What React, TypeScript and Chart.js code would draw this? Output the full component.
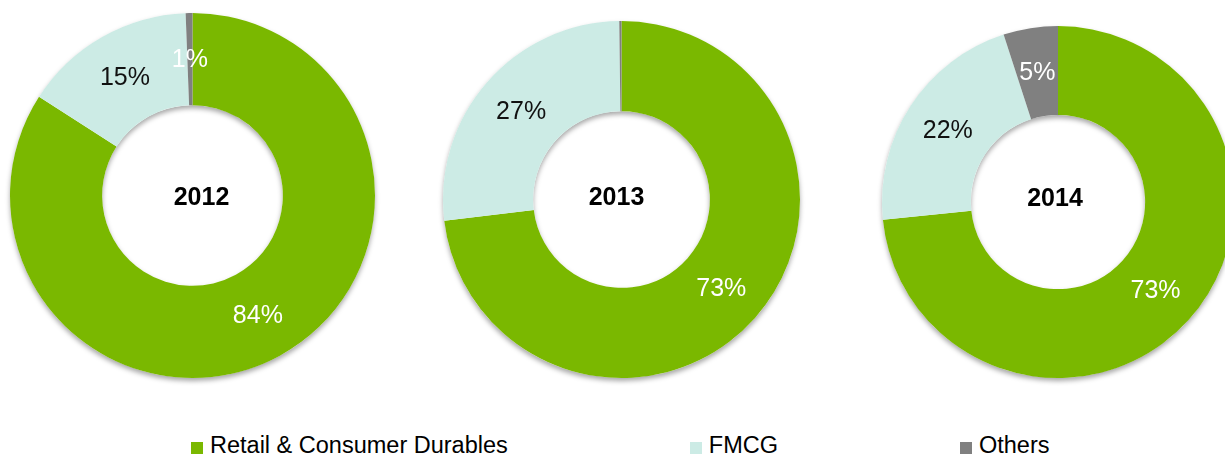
import React, { useEffect, useRef } from "react";
import { Chart, registerables } from "chart.js";

Chart.register(...registerables);

// ---- data ----
const categories = ["Retail & Consumer Durables", "FMCG", "Others"];
const years = ["2012", "2013", "2014"];
const values2012 = [84.1, 15.3, 0.6];
const values2013 = [73.1, 26.7, 0.2];
const values2014 = [73.4, 21.6, 5.0];
const seriesByYear = [values2012, values2013, values2014];

// ---- styles ----
const colors = ["#7AB800", "#CCEBE5", "#808080"];
const labelColors = ["#FFFFFF", "#111111", "#FFFFFF"];
const FONT = "'Liberation Sans', Arial, Helvetica, sans-serif";

// layout of each doughnut (canvas box = size, centred on the ring)
const layouts = [
  { left: 10, top: 13, size: 365, dx: 9, dy: 2 },
  { left: 443, top: 21, size: 357, dx: -5, dy: -2 },
  { left: 882, top: 26, size: 352, dx: -3, dy: -4 },
];
const PAD = 8;

const ringShadow = {
  id: "ringShadow",
  beforeDatasetsDraw(chart: any) {
    const arc = chart.getDatasetMeta(0).data[0];
    if (!arc) return;
    const { x, y, outerRadius, innerRadius } = arc.getProps(
      ["x", "y", "outerRadius", "innerRadius"],
      true
    );
    const ctx = chart.ctx;
    ctx.save();
    ctx.shadowColor = "rgba(0,0,0,0.35)";
    ctx.shadowBlur = 5;
    ctx.shadowOffsetY = 3;
    ctx.beginPath();
    ctx.arc(x, y, outerRadius, 0, Math.PI * 2);
    ctx.arc(x, y, innerRadius, 0, Math.PI * 2, true);
    ctx.closePath();
    ctx.fillStyle = "#ffffff";
    ctx.fill();
    ctx.restore();
  },
};

const sliceLabels = {
  id: "sliceLabels",
  afterDatasetsDraw(chart: any) {
    const ds = chart.data.datasets[0];
    const meta = chart.getDatasetMeta(0);
    const ctx = chart.ctx;
    ctx.save();
    ctx.font = `25px ${FONT}`;
    ctx.textAlign = "center";
    ctx.textBaseline = "middle";
    meta.data.forEach((arc: any, i: number) => {
      const v = Math.round(ds.data[i]);
      if (v < 1) return;
      const p = arc.tooltipPosition(true);
      ctx.fillStyle = labelColors[i];
      ctx.fillText(`${v}%`, p.x, p.y + 1);
    });
    ctx.restore();
  },
};

const centerTitle = {
  id: "centerTitle",
  afterDraw(chart: any, _args: any, opts: any) {
    const arc = chart.getDatasetMeta(0).data[0];
    if (!arc) return;
    const ctx = chart.ctx;
    ctx.save();
    ctx.font = `bold 25px ${FONT}`;
    ctx.fillStyle = "#000000";
    ctx.textAlign = "center";
    ctx.textBaseline = "middle";
    ctx.fillText(opts.text, arc.x + (opts.dx || 0), arc.y + (opts.dy || 0) + 1);
    ctx.restore();
  },
};

function Donut({ idx }: { idx: number }) {
  const ref = useRef<HTMLCanvasElement | null>(null);
  const L = layouts[idx];
  useEffect(() => {
    if (!ref.current) return;
    const chart = new Chart(ref.current, {
      type: "doughnut",
      data: {
        labels: categories,
        datasets: [
          {
            data: seriesByYear[idx],
            backgroundColor: colors,
            borderWidth: 0,
            hoverOffset: 0,
          },
        ],
      },
      options: {
        responsive: false,
        animation: false,
        cutout: "49.5%",
        rotation: 0,
        layout: { padding: PAD },
        events: [],
        plugins: {
          legend: { display: false },
          tooltip: { enabled: false },
          centerTitle: { text: years[idx], dx: L.dx, dy: L.dy },
        } as any,
      },
      plugins: [ringShadow, sliceLabels, centerTitle],
    });
    return () => chart.destroy();
  }, [idx]);
  const box = L.size + PAD * 2;
  return (
    <canvas
      ref={ref}
      width={box}
      height={box}
      style={{
        position: "absolute",
        left: L.left - PAD,
        top: L.top - PAD,
        width: box,
        height: box,
      }}
    />
  );
}

export default function App() {
  return (
    <div
      style={{
        position: "fixed",
        left: 0,
        top: 0,
        width: 1225,
        height: 457,
        overflow: "hidden",
        background: "#ffffff",
      }}
    >
      {years.map((_, i) => (
        <Donut key={i} idx={i} />
      ))}
      <div
        style={{
          position: "absolute",
          left: 191,
          top: 433,
          display: "flex",
          flexDirection: "row",
          alignItems: "center",
          gap: 182,
          fontFamily: FONT,
          fontSize: "23.5px",
          lineHeight: "24px",
          color: "#000000",
          whiteSpace: "nowrap",
        }}
      >
        {categories.map((c, i) => (
          <div key={c} style={{ display: "flex", alignItems: "flex-end" }}>
            <span
              style={{
                display: "inline-block",
                width: 12,
                height: 12,
                background: colors[i],
                marginRight: 7,
                marginBottom: 3,
              }}
            />
            <span>{c}</span>
          </div>
        ))}
      </div>
    </div>
  );
}
